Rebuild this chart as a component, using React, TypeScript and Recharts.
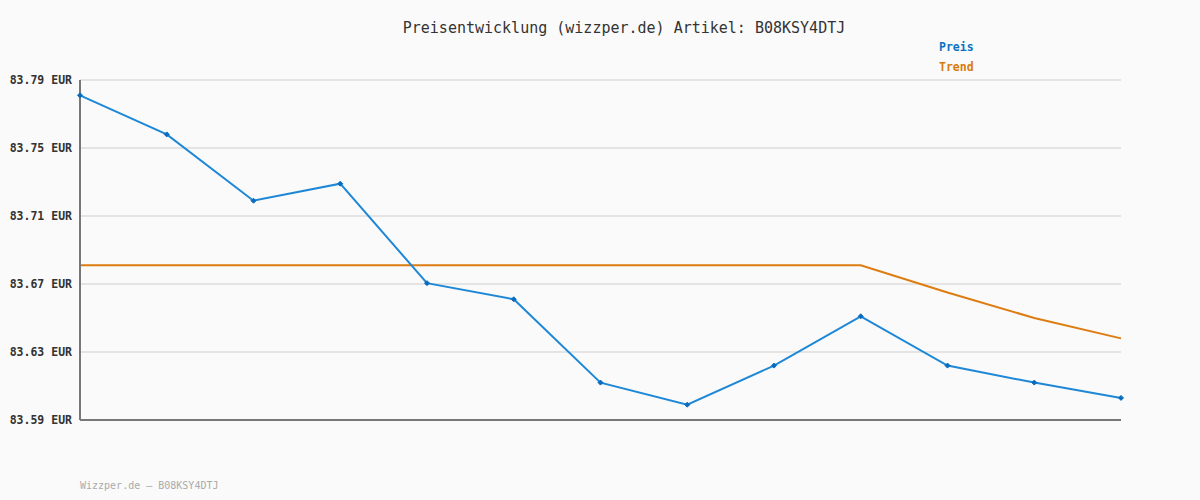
import React from "react";
import { LineChart, Line, XAxis, YAxis, CartesianGrid } from "recharts";

const dates = ["1", "2", "3", "4", "5", "6", "7", "8", "9", "10", "11", "12", "13"];
const preis = [83.781, 83.758, 83.719, 83.729, 83.6705, 83.661, 83.612, 83.599, 83.622, 83.651, 83.622, 83.612, 83.603];
const trend = [83.681, 83.681, 83.681, 83.681, 83.681, 83.681, 83.681, 83.681, 83.681, 83.681, 83.665, 83.65, 83.638];
const yTicks = [83.59, 83.63, 83.67, 83.71, 83.75, 83.79];
const seriesNames = ["Preis", "Trend"];

const data = dates.map((d, i) => ({ d, preis: preis[i], trend: trend[i] }));

const FONT = "'DejaVu Sans Mono', monospace";

const Dot = (props: any) => {
  const { cx, cy } = props;
  if (cx == null || cy == null) return null;
  return (
    <path
      d={`M${cx - 2.5},${cy} L${cx},${cy - 2.5} L${cx + 2.5},${cy} L${cx},${cy + 2.5} Z`}
      fill="#0a6cbf"
      stroke="#0a6cbf"
      strokeWidth={1}
    />
  );
};

const YTick = (props: any) => {
  const { y, payload } = props;
  return (
    <text x={72} y={y} dy={4} textAnchor="end" fontFamily={FONT} fontSize={11.5} fontWeight="bold" fill="#333">
      {payload.value.toFixed(2)} EUR
    </text>
  );
};

export default function App() {
  return (
    <div style={{ position: "absolute", left: 0, top: 0, width: 1200, height: 500, background: "#fafafa" }}>
      <div
        style={{
          position: "absolute",
          left: 0,
          width: 1200,
          top: 19,
          textAlign: "center",
          fontFamily: FONT,
          fontSize: 15,
          color: "#333",
          paddingLeft: 48,
          boxSizing: "border-box",
        }}
      >
        Preisentwicklung (wizzper.de) Artikel: B08KSY4DTJ
      </div>
      <div
        style={{
          position: "absolute",
          left: 939,
          top: 37,
          fontFamily: FONT,
          fontSize: 11.5,
          fontWeight: "bold",
          lineHeight: "20px",
        }}
      >
        <div style={{ color: "#0a72c2" }}>{seriesNames[0]}</div>
        <div style={{ color: "#d97a08" }}>{seriesNames[1]}</div>
      </div>
      <div style={{ position: "absolute", left: 0, top: 0 }}>
        <LineChart width={1200} height={500} data={data} margin={{ top: 80, right: 79, bottom: 0, left: 0 }}>
          <CartesianGrid vertical={false} stroke="#e4e4e4" strokeWidth={2} />
          <XAxis dataKey="d" height={80} tick={false} tickLine={false} axisLine={{ stroke: "#777", strokeWidth: 2 }} />
          <YAxis
            width={80}
            domain={[83.59, 83.79]}
            ticks={yTicks}
            tick={<YTick />}
            tickLine={false}
            axisLine={{ stroke: "#777", strokeWidth: 2 }}
            allowDataOverflow
          />
          <Line
            dataKey="trend"
            name={seriesNames[1]}
            stroke="#dd7c10"
            strokeWidth={2}
            dot={false}
            activeDot={false}
            isAnimationActive={false}
          />
          <Line
            dataKey="preis"
            name={seriesNames[0]}
            stroke="#1e88d6"
            strokeWidth={2}
            dot={<Dot />}
            activeDot={false}
            isAnimationActive={false}
          />
        </LineChart>
      </div>
      <div
        style={{
          position: "absolute",
          left: 80,
          top: 480,
          fontFamily: FONT,
          fontSize: 10,
          color: "#aaa",
        }}
      >
        Wizzper.de – B08KSY4DTJ
      </div>
    </div>
  );
}
